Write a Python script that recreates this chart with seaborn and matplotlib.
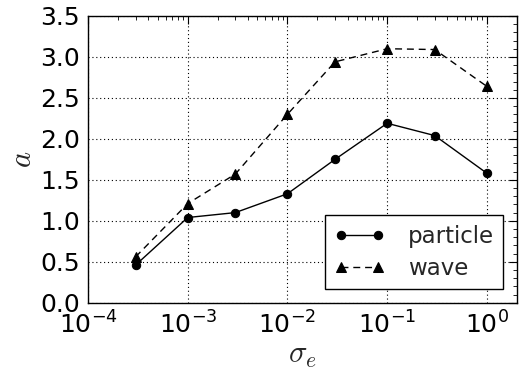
import numpy as np
import pandas as pd
import seaborn as sns
import matplotlib
matplotlib.use('Agg')
import matplotlib.pyplot as plt
from matplotlib.ticker import LogLocator, AutoMinorLocator, MultipleLocator

sigma_e = [3e-4, 1e-3, 3e-3, 1e-2, 3e-2, 1e-1, 3e-1, 1e0]
a_particle = [0.46, 1.04, 1.10, 1.33, 1.75, 2.19, 2.04, 1.58]
a_wave = [0.56, 1.21, 1.57, 2.30, 2.94, 3.10, 3.09, 2.64]

sns.set_style('white')
plt.rcParams['font.family'] = ['DejaVu Sans']
plt.rcParams['mathtext.fontset'] = 'cm'

fig = plt.figure(figsize=(5.19, 3.71), dpi=100)
ax = fig.add_axes([0.1696, 0.184, 0.8264, 0.773])

sns.lineplot(x=sigma_e, y=a_particle, ax=ax, color='k', marker='o', markersize=6,
             markeredgecolor='k', linestyle='-', linewidth=1, label='particle')
sns.lineplot(x=sigma_e, y=a_wave, ax=ax, color='k', marker='^', markersize=6.5,
             markeredgecolor='k', linewidth=1, label='wave')
ax.lines[1].set_linestyle((0, (5, 3.5)))

ax.set_xscale('log')
ax.set_xlim(1e-4, 2)
ax.set_ylim(0, 3.5)
ax.xaxis.set_major_locator(LogLocator(base=10, numticks=10))
ax.xaxis.set_minor_locator(LogLocator(base=10, subs=np.arange(2, 10), numticks=10))
ax.yaxis.set_major_locator(MultipleLocator(0.5))
ax.yaxis.set_minor_locator(AutoMinorLocator(5))

ax.grid(True, which='major', color='k', linestyle=(0, (1, 2.5)), linewidth=0.8)
ax.tick_params(which='both', direction='in', top=True, right=True, colors='k')
ax.tick_params(which='major', length=6, width=0.8, labelsize=18, pad=6)
ax.tick_params(which='minor', length=3, width=0.6)
for s in ax.spines.values():
    s.set_color('k')
    s.set_linewidth(1)

ax.set_xlabel(r'$\sigma_e$', fontsize=22, labelpad=2)
ax.set_ylabel(r'$a$', fontsize=22, labelpad=2)

leg = ax.legend(loc='lower right', numpoints=2, fontsize=16.5, fancybox=False,
                framealpha=1, edgecolor='k', handlelength=2.2, borderaxespad=0.6,
                handletextpad=1.0, labelspacing=0.4)
leg.get_frame().set_linewidth(1)

fig.savefig('out.png', dpi=100)
